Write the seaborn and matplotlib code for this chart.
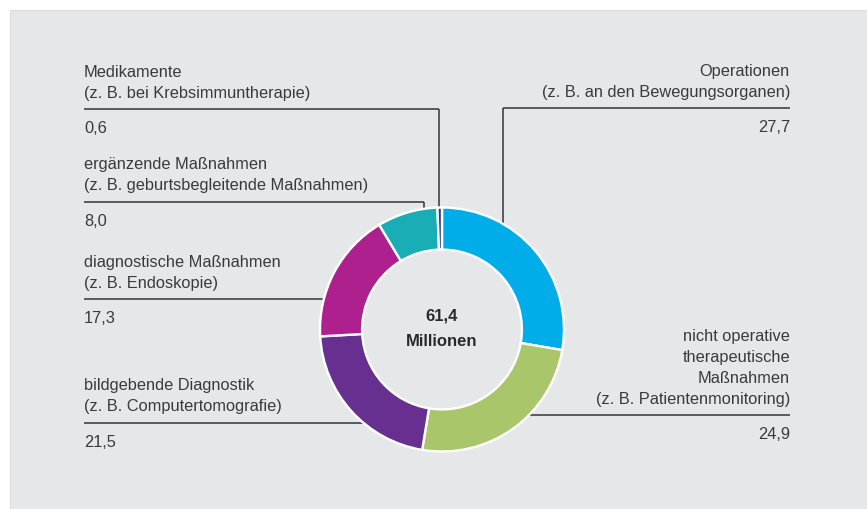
import numpy as np
import matplotlib
matplotlib.use('Agg')
import matplotlib.pyplot as plt
from matplotlib.patches import Rectangle
import seaborn as sns

# data (Mio. Eingriffe, Anteile in %)
categories = ['Operationen', 'nicht operative therapeutische Maßnahmen', 'bildgebende Diagnostik',
              'diagnostische Maßnahmen', 'ergänzende Maßnahmen', 'Medikamente']
shares = [27.7, 24.9, 21.5, 17.3, 8.0, 0.6]
value_labels = ['27,7', '24,9', '21,5', '17,3', '8,0', '0,6']
label_lines = [['Operationen', '(z. B. an den Bewegungsorganen)'],
               ['nicht operative', 'therapeutische', 'Maßnahmen', '(z. B. Patientenmonitoring)'],
               ['bildgebende Diagnostik', '(z. B. Computertomografie)'],
               ['diagnostische Maßnahmen', '(z. B. Endoskopie)'],
               ['ergänzende Maßnahmen', '(z. B. geburtsbegleitende Maßnahmen)'],
               ['Medikamente', '(z. B. bei Krebsimmuntherapie)']]
total_label = '61,4\nMillionen'
colors = sns.color_palette(['#00ade9', '#a9c66a', '#673090', '#ad208e', '#19aeb6', '#2b3990'])

sns.set_theme(style='white')
plt.rcParams['font.family'] = ['Liberation Sans', 'DejaVu Sans']

W, H = 867, 509
R = 122.0            # donut radius in pixels
CX, CY = 442, 329.5  # donut centre in pixels


def px(x, y):
    return (x - CX) / R, (CY - y) / R


fig = plt.figure(figsize=(W / 100, H / 100), dpi=100)
fig.patch.set_facecolor('white')
fig.add_artist(Rectangle((10 / W, 0), 1 - 10 / W, (H - 10) / H, transform=fig.transFigure,
                         facecolor='#e6e7e9', edgecolor='#d6d7d9', lw=0.6, zorder=0))

ax = fig.add_axes([0, 0, 1, 1])
ax.set_facecolor('none')
ax.pie(shares, colors=colors, startangle=90, counterclock=False, radius=1,
       wedgeprops=dict(width=0.345, edgecolor='white', linewidth=1.7, zorder=3))
ax.set_xlim(px(0, 0)[0], px(W, 0)[0])
ax.set_ylim(px(0, H)[1], px(0, 0)[1])
ax.set_aspect('equal')
ax.axis('off')

ax.text(0, px(0, 316)[1], '61,4', ha='center', va='center', fontsize=12, fontweight='bold',
        color='#2a2a2a')
ax.text(0, px(0, 341)[1], 'Millionen', ha='center', va='center', fontsize=12, fontweight='bold',
        color='#2a2a2a')

# leader layout: side, rule y, rule end nearest donut (x), vertical drop?
leaders = {
    'Operationen': dict(side='right', y=108, x=503, drop=True),
    'nicht operative therapeutische Maßnahmen': dict(side='right', y=415, x=None, drop=False),
    'bildgebende Diagnostik': dict(side='left', y=422.7, x=None, drop=False),
    'diagnostische Maßnahmen': dict(side='left', y=299.3, x=None, drop=False),
    'ergänzende Maßnahmen': dict(side='left', y=201.7, x=424, drop=True),
    'Medikamente': dict(side='left', y=109, x=439.5, drop=True),
}
line_kw = dict(color='#333333', lw=1.1, zorder=2, solid_capstyle='butt')
txt_kw = dict(fontsize=11.8, color='#3a3a3a', va='baseline')
LEFT_X, RIGHT_X = 84, 790

for cat, lines, val in zip(categories, label_lines, value_labels):
    lay = leaders[cat]
    ly = lay['y']
    if lay['drop']:
        ex = lay['x']
        dx = (ex - CX) / R
        ey = np.sqrt(1 - dx ** 2)
        y0 = px(0, ly)[1]
        ax.plot([dx, dx], [y0, ey], **line_kw)
        inner = dx
    else:
        dy = (CY - ly) / R
        inner = np.sqrt(1 - dy ** 2) * (1 if lay['side'] == 'right' else -1)
    outer = px(RIGHT_X if lay['side'] == 'right' else LEFT_X, 0)[0]
    y0 = px(0, ly)[1]
    ax.plot([min(inner, outer), max(inner, outer)], [y0, y0], **line_kw)

    tx = outer
    ha = 'right' if lay['side'] == 'right' else 'left'
    n = len(lines)
    for i, t in enumerate(lines):
        by = ly - 11.5 - 21 * (n - 1 - i)
        ax.text(tx, px(0, by)[1], t, ha=ha, **txt_kw)
    ax.text(tx, px(0, ly + 24)[1], val, ha=ha, **txt_kw)

fig.savefig('out.png', dpi=100, facecolor='white')
